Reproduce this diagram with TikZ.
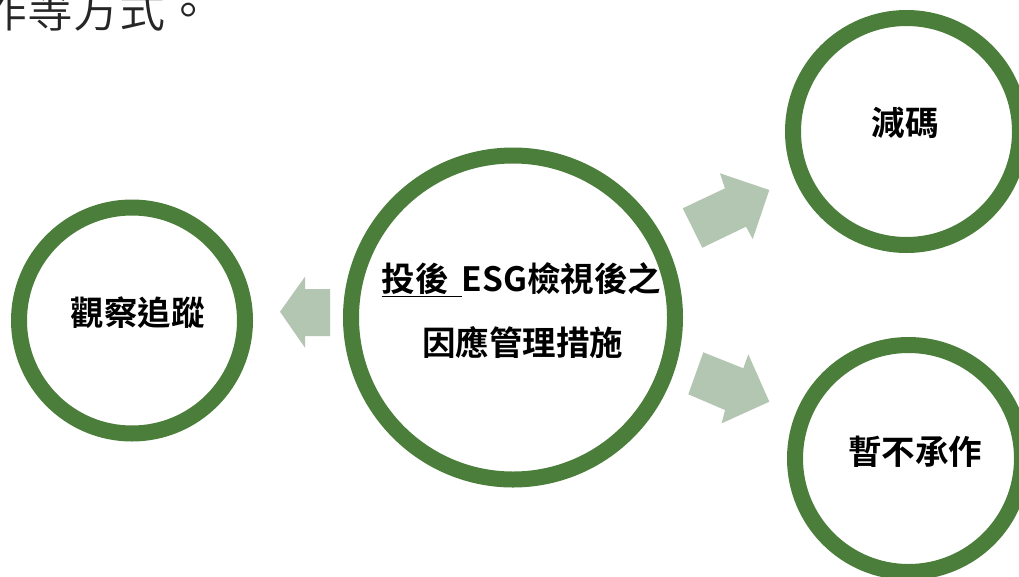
\documentclass[tikz,border=0pt]{standalone}
\usepackage{fontspec}
\newfontfamily\cjk{Noto Sans CJK TC Bold}
\newfontfamily\cjklight{Noto Sans CJK TC DemiLight}
\definecolor{ringgreen}{HTML}{4B7E3A}
\definecolor{arrowgreen}{HTML}{B3C6B1}
\definecolor{captiongray}{HTML}{262626}
\begin{document}
\begin{tikzpicture}[x=1pt,y=-1pt,
  ring/.style={circle,draw=ringgreen,line width=16pt,fill=white,inner sep=0pt},
  lbl/.style={font=\cjk\fontsize{33.5}{40}\selectfont,inner sep=0pt,anchor=base,text=black},
  blockarrow/.style={fill=arrowgreen,draw=none}]
\useasboundingbox[fill=white] (0,0) rectangle (1019,576);
\clip (0,0) rectangle (1019,576);

% caption fragment at top left
\node[anchor=base west,inner sep=0pt,text=captiongray,
      font=\cjklight\fontsize{46}{50}\selectfont] (caption) at (-19,27) {作等方式。};

% circles
\node[ring,minimum size=324pt] (center) at (513,317.5) {};
\node[ring,minimum size=226pt] (watch) at (132,320.5) {};
\node[ring,minimum size=227pt] (reduce) at (906.5,131.5) {};
\node[ring,minimum size=227pt] (decline) at (908.5,458.5) {};

% labels
\node[lbl] (centerA) at (521.3,291.8) {\underline{投後\hspace{13pt}}ESG檢視後之};
\node[lbl] (centerB) at (522.5,355.3) {因應管理措施};
\node[lbl] (watchT) at (137.5,325.8) {觀察追蹤};
\node[lbl] (reduceT) at (905,135.8) {減碼};
\node[lbl] (declineT) at (915,464.8) {暫不承作};

% block arrows
\fill[blockarrow] (330,289) -- (305,289) -- (305,276.7) -- (280,311.7)
   -- (305,347.7) -- (305,336) -- (330,336) -- cycle;
\fill[blockarrow] (682.7,208.3) -- (725,188.3) -- (720,173.3) -- (769.3,190)
   -- (752.7,239) -- (746,226.7) -- (702.3,247.7) -- cycle;
\fill[blockarrow] (703.3,352.3) -- (743.3,368.3) -- (748.3,354.3) -- (769.3,401.7)
   -- (721.7,423.3) -- (725,410) -- (688.3,394.3) -- cycle;
\end{tikzpicture}
\end{document}
